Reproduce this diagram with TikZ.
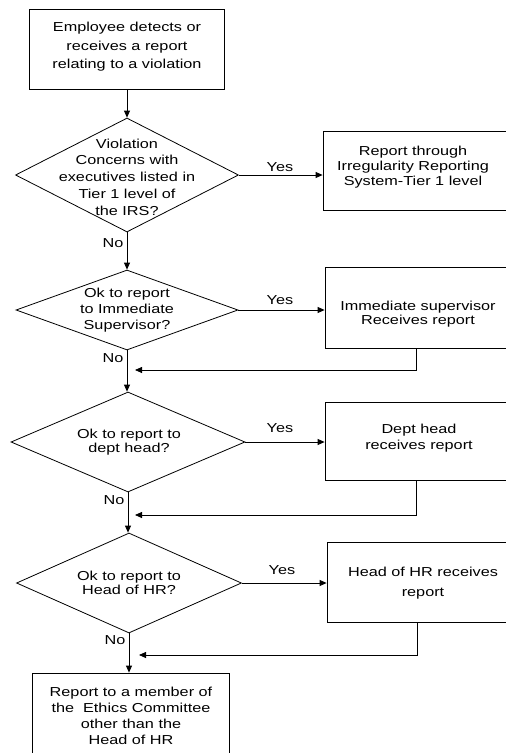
\documentclass[tikz,border=0pt]{standalone}
\usepackage{fontspec}
\setmainfont[FakeStretch=1.25]{Liberation Sans}
\usetikzlibrary{shapes.geometric,arrows.meta}
\begin{document}
\begin{tikzpicture}[x=1pt,y=-1pt,
  box/.style={draw, line width=0.8pt, rectangle, inner sep=0pt},
  dia/.style={draw, line width=0.8pt, diamond, inner sep=0pt},
  txt/.style={align=center, inner sep=0pt, font=\fontsize{13}{16}\selectfont},
  arr/.style={line width=0.8pt, -{Triangle[length=7pt,width=6pt]}},
  lbl/.style={font=\fontsize{13}{16}\selectfont, inner sep=0pt}
]
\useasboundingbox (0,0) rectangle (506,753);
\clip (0,0) rectangle (506,753);

% boxes
\node[box, minimum width=195pt, minimum height=80pt] (b1) at (127,49) {};
\node[txt, font=\fontsize{13}{18.5}\selectfont] (b1t) at (127,47) {Employee detects or\\receives a report\\relating to a violation};

\node[box, minimum width=185pt, minimum height=79pt] (b2) at (415.5,170.5) {};
\node[txt, font=\fontsize{13}{15}\selectfont] (b2t) at (413,167) {Report through\\Irregularity Reporting\\System-Tier 1 level};

\node[box, minimum width=183pt, minimum height=81pt] (b3) at (416.5,307.5) {};
\node[txt, font=\fontsize{13}{14}\selectfont] (b3t) at (418,314) {Immediate supervisor\\Receives report};

\node[box, minimum width=183pt, minimum height=78pt] (b4) at (416.5,441) {};
\node[txt, font=\fontsize{13}{16}\selectfont] (b4t) at (419,438) {Dept head\\receives report};

\node[box, minimum width=181pt, minimum height=80pt] (b5) at (417.5,582) {};
\node[txt, font=\fontsize{13}{20}\selectfont] (b5t) at (423,583) {Head of HR receives\\report};

\node[box, minimum width=197pt, minimum height=87pt] (b6) at (131,716.5) {};
\node[txt, font=\fontsize{13}{16}\selectfont] (b6t) at (131,716) {Report to a member of\\the \ Ethics Committee\\other than the\\Head of HR};

% diamonds
\node[dia, minimum width=223pt, minimum height=114pt] (d1) at (127,175) {};
\node[txt, font=\fontsize{13}{16.8}\selectfont] (d1t) at (127,177) {Violation\\Concerns with\\executives listed in\\Tier 1 level of\\the IRS?};

\node[dia, minimum width=222pt, minimum height=80pt] (d2) at (127,310) {};
\node[txt, font=\fontsize{13}{16}\selectfont] (d2t) at (127,310) {Ok to report\\to Immediate\\Supervisor?};

\node[dia, minimum width=234pt, minimum height=100pt] (d3) at (128,442) {};
\node[txt, font=\fontsize{13}{13.5}\selectfont] (d3t) at (129,442) {Ok to report to\\dept head?};

\node[dia, minimum width=225pt, minimum height=100pt] (d4) at (129,583) {};
\node[txt, font=\fontsize{13}{13.5}\selectfont] (d4t) at (129,583) {Ok to report to\\Head of HR?};

% main flow
\draw[arr] (b1.south) -- (b1.south |- d1.north);
\draw[arr] (d1.south) -- (d1.south |- d2.north);
\draw[arr] (d2.south) -- (d2.south |- d3.north);
\draw[arr] (d3.south) -- (d3.south |- d4.north);
\draw[arr] (d4.south) -- (d4.south |- b6.north);

% yes branches
\draw[arr] (d1.east) -- (d1.east -| b2.west);
\draw[arr] (d2.east) -- (d2.east -| b3.west);
\draw[arr] (d3.east) -- (d3.east -| b4.west);
\draw[arr] (d4.east) -- (d4.east -| b5.west);

% return lines
\coordinate (f1) at (135,370);
\coordinate (f2) at (135,515);
\coordinate (f3) at (139,655);
\draw[arr] (b3.south) |- (f1);
\draw[arr] (b4.south) |- (f2);
\draw[arr] (b5.south) |- (f3);

% labels
\node[lbl] (y1) at (280,167) {Yes};
\node[lbl] (y2) at (280,300) {Yes};
\node[lbl] (y3) at (280,428) {Yes};
\node[lbl] (y4) at (282,570) {Yes};
\node[lbl] (n1) at (113,243) {No};
\node[lbl] (n2) at (113,358) {No};
\node[lbl] (n3) at (114,500) {No};
\node[lbl] (n4) at (115,640) {No};
\end{tikzpicture}
\end{document}
